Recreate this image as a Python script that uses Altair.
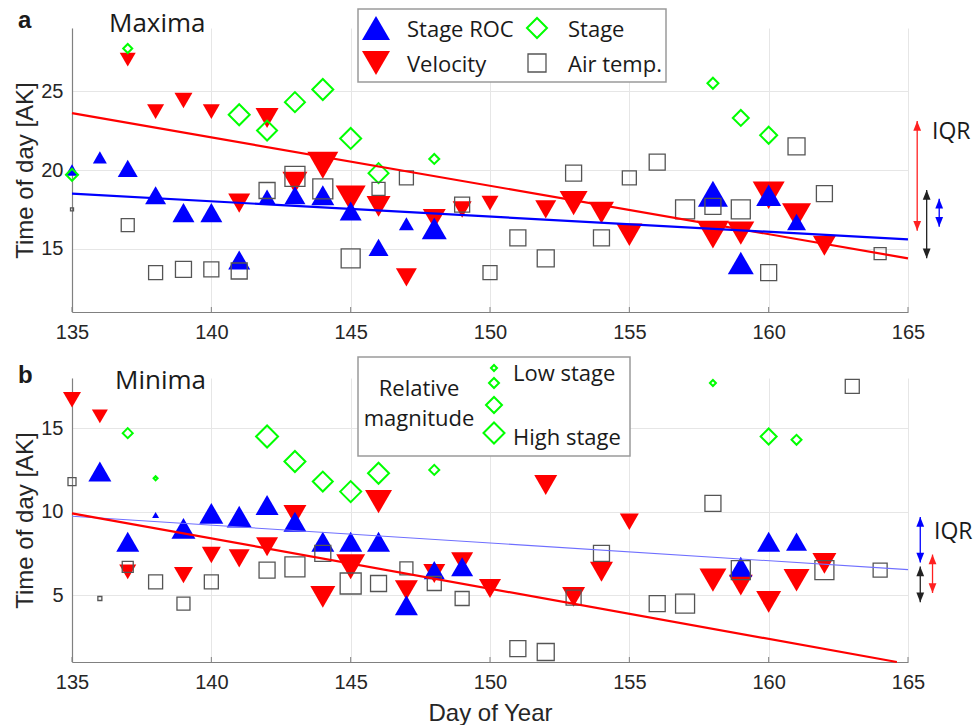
import altair as alt
import pandas as pd

# ---------------- Panel a: Maxima ----------------
a_roc_day = [135, 136, 137, 138, 139, 140, 141, 142, 143, 144, 145, 146, 147, 148, 158, 159, 160, 161]
a_roc_val = [20.0, 20.8, 20.1, 18.4, 17.3, 17.3, 14.3, 18.3, 18.4, 18.4, 17.4, 15.1, 16.6, 16.3, 18.5, 14.1, 18.4, 16.7]
a_roc_mag = [13, 14, 20, 21, 22, 22, 22, 17, 21, 23, 22, 20, 15, 25, 30, 26, 25, 19]

a_vel_day = [137, 138, 139, 140, 141, 142, 143, 144, 145, 146, 147, 148, 149, 150, 152, 153, 154, 155, 158, 159, 160, 161, 162]
a_vel_val = [27.0, 23.7, 24.4, 23.7, 17.9, 23.3, 19.2, 20.3, 18.2, 17.7, 13.2, 16.9, 17.5, 17.9, 17.5, 17.9, 17.3, 15.9, 15.9, 16.0, 18.4, 17.1, 15.2]
a_vel_mag = [16, 17, 18, 17, 22, 23, 25, 31, 30, 24, 21, 23, 19, 17, 21, 28, 25, 26, 32, 27, 32, 29, 23]

a_stg_day = [135, 137, 141, 142, 143, 144, 145, 146, 148, 158, 159, 160]
a_stg_val = [19.7, 27.7, 23.5, 22.5, 24.3, 25.1, 22.0, 19.8, 20.7, 25.5, 23.3, 22.2]
a_stg_mag = [12, 9, 21, 20, 20, 21, 21, 20, 10, 11, 16, 17]

a_air_day = [135, 137, 138, 139, 140, 141, 142, 143, 144, 145, 146, 147, 149, 150, 151, 152, 153, 154, 155, 156, 157, 158, 159, 160, 161, 162, 164]
a_air_val = [17.5, 16.5, 13.5, 13.7, 13.7, 13.6, 18.7, 19.6, 18.8, 14.4, 18.8, 19.5, 17.8, 13.5, 15.7, 14.4, 19.8, 15.7, 19.5, 20.5, 17.5, 17.7, 17.5, 13.5, 21.5, 18.5, 14.7]
a_air_mag = [3, 13, 14, 16, 15, 16, 16, 20, 20, 19, 13, 14, 15, 14, 16, 17, 16, 16, 14, 16, 19, 16, 19, 16, 17, 16, 12]

a_fit_day = [135, 165]
a_fit_vel = [23.6, 14.4]
a_fit_roc = [18.5, 15.6]

a_iqr_day = [165.33, 165.67, 166.12]
a_iqr_lo = [16.15, 14.4, 16.4]
a_iqr_hi = [23.1, 18.74, 18.17]
a_iqr_col = ["#ff2020", "#222222", "#0000ff"]

# ---------------- Panel b: Minima ----------------
b_roc_day = [136, 137, 138, 139, 140, 141, 142, 143, 144, 145, 146, 147, 148, 149, 159, 160, 161]
b_roc_val = [12.4, 8.2, 9.8, 9.0, 9.9, 9.7, 10.4, 9.4, 8.2, 8.2, 8.2, 4.4, 6.5, 6.7, 6.7, 8.2, 8.2]
b_roc_mag = [23, 23, 7, 24, 24, 25, 23, 23, 23, 23, 23, 23, 21, 22, 23, 23, 21]

b_vel_day = [135, 136, 137, 139, 140, 141, 142, 143, 144, 145, 146, 147, 148, 149, 150, 152, 153, 154, 155, 158, 159, 160, 161, 162]
b_vel_val = [16.7, 15.7, 6.4, 6.2, 7.4, 7.2, 7.9, 9.8, 4.9, 6.7, 10.6, 5.3, 6.3, 7.0, 5.4, 11.6, 4.9, 6.4, 9.4, 5.9, 5.6, 4.6, 5.9, 6.9]
b_vel_mag = [18, 16, 17, 19, 19, 21, 22, 23, 25, 29, 27, 23, 22, 22, 22, 23, 23, 23, 19, 27, 24, 25, 26, 24]

b_stg_day = [137, 138, 142, 143, 144, 145, 146, 148, 158, 160, 161]
b_stg_val = [14.7, 12.0, 14.5, 13.0, 11.8, 11.2, 12.3, 12.5, 17.7, 14.5, 14.3]
b_stg_mag = [10, 4, 22, 21, 20, 21, 21, 10, 6, 16, 10]

b_air_day = [135, 136, 137, 138, 139, 140, 142, 143, 144, 145, 146, 147, 148, 149, 151, 152, 153, 154, 156, 157, 158, 159, 162, 163, 164]
b_air_val = [11.8, 4.8, 6.7, 5.8, 4.5, 5.8, 6.5, 6.7, 7.5, 5.7, 5.7, 6.6, 5.7, 4.8, 1.8, 1.6, 4.85, 7.5, 4.5, 4.5, 10.5, 6.5, 6.5, 17.5, 6.5]
b_air_mag = [8, 4, 11, 14, 13, 14, 16, 20, 16, 21, 16, 13, 14, 14, 16, 17, 15, 16, 16, 19, 16, 19, 19, 14, 14]

b_fit_roc_day = [135, 165]
b_fit_roc = [9.72, 6.53]
b_fit_vel_day = [135, 164.6]
b_fit_vel = [9.9, 1.0]

b_iqr_day = [165.44, 165.44, 165.88]
b_iqr_lo = [6.96, 4.57, 5.13]
b_iqr_hi = [9.68, 6.72, 7.43]
b_iqr_col = ["#0000ff", "#222222", "#ff2020"]

x_ticks = [135, 140, 145, 150, 155, 160, 165]
a_y_ticks = [15, 20, 25]
b_y_ticks = [5, 10, 15]

W, H = 836, 284
BLUE, RED, GREEN, GRAY = "#0000ff", "#ff0000", "#00ff00", "#555555"
UP_HEAD = "M0,0L-0.4,1L0.4,1Z"
DOWN_HEAD = "M0,0L-0.4,-1L0.4,-1Z"
SIZE = alt.Scale(type="pow", exponent=2, domain=[0, 32], range=[0, 1024])
ONE = alt.Data(values=[{"k": 1}])


def frame(days, vals, mags):
    return pd.DataFrame({"day": days, "t": vals, "mag": mags})


def txt(x, y, s, size=22, font="Open Sans", align="left", baseline="middle", weight="normal"):
    return alt.Chart(ONE).mark_text(
        align=align, baseline=baseline, font=font, fontSize=size, fontWeight=weight, color="#1a1a1a"
    ).encode(x=alt.value(x), y=alt.value(y), text=alt.value(s))


def sym(x, y, shape, color, filled, size, sw=1.5):
    kw = dict(shape=shape, color=color, filled=filled, opacity=1, size=size)
    if not filled:
        kw["strokeWidth"] = sw
    return alt.Chart(ONE).mark_point(**kw).encode(x=alt.value(x), y=alt.value(y))


def panel(series, fits, iqr, ydom, yticks, show_xtitle, extras):
    xaxis_kw = dict(values=x_ticks, format="d", labelPadding=10, grid=True, labelFlush=False)
    if show_xtitle:
        xaxis_kw.update(title="Day of Year", titleY=58, titleBaseline="alphabetic")
    else:
        xaxis_kw.update(title=None)
    X = alt.X("day:Q", scale=alt.Scale(domain=[135, 165], nice=False, zero=False), axis=alt.Axis(**xaxis_kw))
    yscale = alt.Scale(domain=ydom, nice=False, zero=False)
    yaxis = alt.Axis(values=yticks, format="d", labelPadding=9, grid=True, labelFlush=False,
                     title="Time of day [AK]", titleX=-40, titleBaseline="alphabetic")
    Y = alt.Y("t:Q", scale=yscale, axis=yaxis)
    Y2 = alt.Y("t2:Q", scale=yscale, axis=yaxis)

    roc, vel, stg, air = series
    layers = []
    # inner tick marks on the x axis
    layers.append(alt.Chart(pd.DataFrame({"day": x_ticks})).mark_rule(color="#808080", strokeWidth=1).encode(
        x=X, y=alt.value(H), y2=alt.value(H - 5)))
    size_enc = alt.Size("mag:Q", scale=SIZE, legend=None)
    layers.append(alt.Chart(vel).mark_point(shape="triangle-down", filled=True, color=RED, opacity=1)
                  .encode(x=X, y=Y, size=size_enc))
    layers.append(alt.Chart(roc).mark_point(shape="triangle-up", filled=True, color=BLUE, opacity=1)
                  .encode(x=X, y=Y, size=size_enc))
    layers.append(alt.Chart(stg).mark_point(shape="diamond", filled=False, color=GREEN, opacity=1, strokeWidth=2)
                  .encode(x=X, y=Y, size=size_enc))
    layers.append(alt.Chart(air).mark_point(shape="square", filled=False, color=GRAY, opacity=1, strokeWidth=1.3)
                  .encode(x=X, y=Y, size=size_enc))
    for df, color, width in fits:
        layers.append(alt.Chart(df).mark_line(color=color, strokeWidth=width).encode(x=X, y=Y))
    layers.append(alt.Chart(iqr).mark_rule(strokeWidth=1.3).encode(
        x=X, y=Y, y2="t2:Q", color=alt.Color("col:N", scale=None)))
    layers.append(alt.Chart(iqr).mark_point(shape=UP_HEAD, filled=True, size=380, opacity=1).encode(
        x=X, y=Y2, color=alt.Color("col:N", scale=None)))
    layers.append(alt.Chart(iqr).mark_point(shape=DOWN_HEAD, filled=True, size=380, opacity=1).encode(
        x=X, y=Y, color=alt.Color("col:N", scale=None)))
    layers.extend(extras)
    return alt.layer(*layers).properties(width=W, height=H)


def box(x1, x2, y1, y2):
    return alt.Chart(ONE).mark_rect(fill="white", stroke="#9a9a9a", strokeWidth=1.5).encode(
        x=alt.value(x1), x2=alt.value(x2), y=alt.value(y1), y2=alt.value(y2))


anchor = alt.Chart(ONE).mark_rect(opacity=0).encode(
    x=alt.value(-72), x2=alt.value(-71), y=alt.value(-28), y2=alt.value(-27))

extras_a = [
    anchor,
    txt(-54, 0, "a", size=24, font="Liberation Sans", baseline="alphabetic", weight="bold"),
    txt(37, 4, "Maxima", size=26, baseline="alphabetic"),
    box(286, 594, -19, 54),
    sym(304, 0, "triangle-up", BLUE, True, 784),
    sym(304, 35, "triangle-down", RED, True, 784),
    sym(465, 0, "diamond", GREEN, False, 400, 2),
    sym(465, 35, "square", GRAY, False, 324, 1.3),
    txt(335, 2, "Stage ROC"),
    txt(335, 37, "Velocity"),
    txt(496, 2, "Stage"),
    txt(496, 37, "Air temp."),
    txt(860, 104, "IQR", size=23),
]

extras_b = [
    txt(-54, 5, "b", size=24, font="Liberation Sans", baseline="alphabetic", weight="bold"),
    txt(43, 11, "Minima", size=26, baseline="alphabetic"),
    box(286, 558, -21, 78),
    txt(347, 11, "Relative", align="center"),
    txt(347, 41, "magnitude", align="center"),
    sym(422, -10, "diamond", GREEN, False, 36, 2),
    sym(422, 5, "diamond", GREEN, False, 100, 2),
    sym(422, 27, "diamond", GREEN, False, 256, 2),
    sym(422, 55, "diamond", GREEN, False, 441, 2),
    txt(441, -4, "Low stage"),
    txt(441, 60, "High stage"),
    txt(862, 154, "IQR", size=23),
]

top = panel(
    (frame(a_roc_day, a_roc_val, a_roc_mag), frame(a_vel_day, a_vel_val, a_vel_mag),
     frame(a_stg_day, a_stg_val, a_stg_mag), frame(a_air_day, a_air_val, a_air_mag)),
    [(pd.DataFrame({"day": a_fit_day, "t": a_fit_vel}), RED, 2.2),
     (pd.DataFrame({"day": a_fit_day, "t": a_fit_roc}), BLUE, 2.2)],
    pd.DataFrame({"day": a_iqr_day, "t": a_iqr_lo, "t2": a_iqr_hi, "col": a_iqr_col}),
    [11, 29], a_y_ticks, False, extras_a)

bottom = panel(
    (frame(b_roc_day, b_roc_val, b_roc_mag), frame(b_vel_day, b_vel_val, b_vel_mag),
     frame(b_stg_day, b_stg_val, b_stg_mag), frame(b_air_day, b_air_val, b_air_mag)),
    [(pd.DataFrame({"day": b_fit_roc_day, "t": b_fit_roc}), "#6f6fff", 1.1),
     (pd.DataFrame({"day": b_fit_vel_day, "t": b_fit_vel}), RED, 2.2)],
    pd.DataFrame({"day": b_iqr_day, "t": b_iqr_lo, "t2": b_iqr_hi, "col": b_iqr_col}),
    [1, 18], b_y_ticks, True, extras_b)

chart = alt.vconcat(top, bottom, spacing=66, bounds="flush").properties(
    padding=0, background="white"
).configure_view(stroke=None).configure_axis(
    labelFont="Liberation Sans", labelFontSize=20, labelColor="#262626",
    titleFont="Liberation Sans", titleFontSize=24, titleColor="#262626", titleFontWeight="normal",
    domainColor="#808080", domainWidth=1.2, gridColor="#e6e6e6", gridWidth=1, ticks=False
)

chart.save("out.html", embed_options={"renderer": "svg", "actions": False})
